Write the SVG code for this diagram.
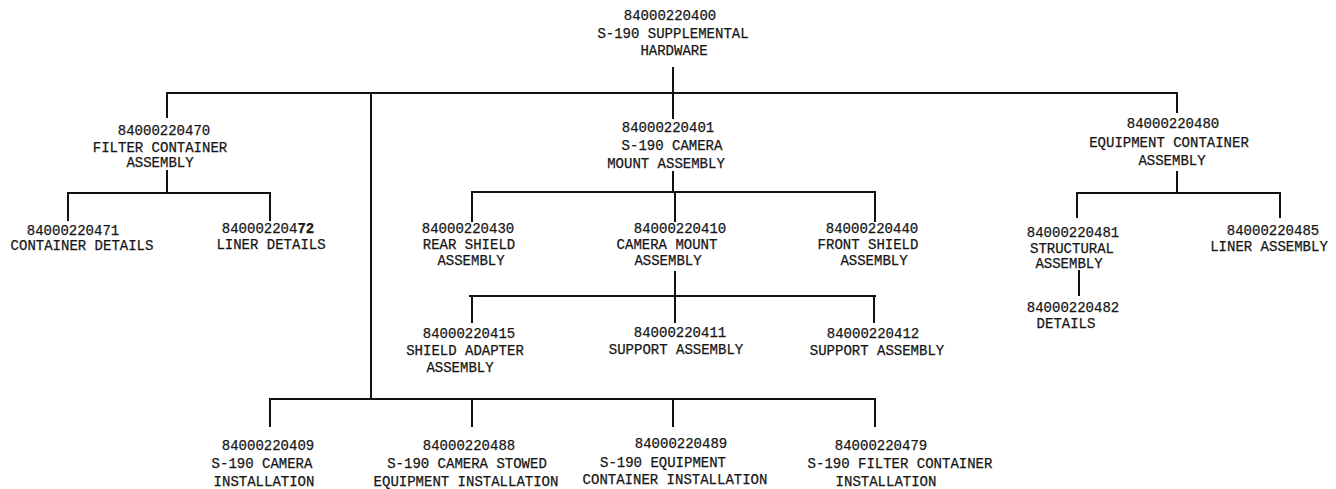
<svg xmlns="http://www.w3.org/2000/svg" width="1336" height="489" viewBox="0 0 1336 489">
<style>
text{font-family:"Liberation Mono","Courier New",monospace;font-size:14px;fill:#161616;stroke:#161616;stroke-width:0.25;text-anchor:middle}
.c line{stroke:#111;stroke-width:2;stroke-linecap:square}
.b{font-weight:bold}
</style>
<rect width="1336" height="489" fill="#fff"/>
<g class="c" id="connectors">
<line x1="673" y1="68" x2="673" y2="118"/>
<line x1="167" y1="93" x2="1177" y2="93"/>
<line x1="167" y1="93" x2="167" y2="117"/>
<line x1="1177" y1="93" x2="1177" y2="112"/>
<line x1="371" y1="93" x2="371" y2="399"/>
<line x1="167" y1="171" x2="167" y2="193"/>
<line x1="68" y1="193" x2="270" y2="193"/>
<line x1="68" y1="193" x2="68" y2="220"/>
<line x1="270" y1="193" x2="270" y2="220"/>
<line x1="673" y1="172" x2="673" y2="192"/>
<line x1="472" y1="192" x2="875" y2="192"/>
<line x1="472" y1="192" x2="472" y2="221"/>
<line x1="675" y1="192" x2="675" y2="221"/>
<line x1="875" y1="192" x2="875" y2="221"/>
<line x1="675" y1="272" x2="675" y2="296"/>
<line x1="470" y1="296" x2="875" y2="296"/>
<line x1="472" y1="296" x2="472" y2="322"/>
<line x1="675" y1="296" x2="675" y2="322"/>
<line x1="874" y1="296" x2="874" y2="322"/>
<line x1="1177" y1="172" x2="1177" y2="193"/>
<line x1="1077" y1="193" x2="1280" y2="193"/>
<line x1="1077" y1="193" x2="1077" y2="217"/>
<line x1="1280" y1="193" x2="1280" y2="217"/>
<line x1="1079" y1="271" x2="1079" y2="295"/>
<line x1="270" y1="399" x2="875" y2="399"/>
<line x1="270" y1="399" x2="270" y2="426"/>
<line x1="472" y1="399" x2="472" y2="426"/>
<line x1="673" y1="399" x2="673" y2="426"/>
<line x1="875" y1="399" x2="875" y2="426"/>
</g>
<g id="n400"><text x="670" y="20">84000220400</text><text x="673" y="38">S-190 SUPPLEMENTAL</text><text x="674" y="55">HARDWARE</text></g>
<g id="n470"><text x="164" y="135">84000220470</text><text x="160" y="152">FILTER CONTAINER</text><text x="160" y="167">ASSEMBLY</text></g>
<g id="n401"><text x="668" y="132">84000220401</text><text x="672" y="150">S-190 CAMERA</text><text x="666" y="168">MOUNT ASSEMBLY</text></g>
<g id="n480"><text x="1173" y="128">84000220480</text><text x="1169" y="147">EQUIPMENT CONTAINER</text><text x="1172" y="165">ASSEMBLY</text></g>
<g id="n471"><text x="73" y="235">84000220471</text><text x="82" y="250">CONTAINER DETAILS</text></g>
<g id="n472"><text x="268" y="233">840002204<tspan class="b">72</tspan></text><text x="271" y="249">LINER DETAILS</text></g>
<g id="n430"><text x="468" y="233">84000220430</text><text x="469" y="249">REAR SHIELD</text><text x="471" y="265">ASSEMBLY</text></g>
<g id="n410"><text x="680" y="233">84000220410</text><text x="667" y="249">CAMERA MOUNT</text><text x="668" y="265">ASSEMBLY</text></g>
<g id="n440"><text x="872" y="233">84000220440</text><text x="868" y="249">FRONT SHIELD</text><text x="874" y="265">ASSEMBLY</text></g>
<g id="n481"><text x="1073" y="237">84000220481</text><text x="1072" y="253">STRUCTURAL</text><text x="1069" y="268">ASSEMBLY</text></g>
<g id="n485"><text x="1273" y="235">84000220485</text><text x="1269" y="251">LINER ASSEMBLY</text></g>
<g id="n482"><text x="1073" y="312">84000220482</text><text x="1066" y="328">DETAILS</text></g>
<g id="n415"><text x="469" y="338">84000220415</text><text x="465" y="355">SHIELD ADAPTER</text><text x="460" y="372">ASSEMBLY</text></g>
<g id="n411"><text x="680" y="337">84000220411</text><text x="676" y="354">SUPPORT ASSEMBLY</text></g>
<g id="n412"><text x="873" y="338">84000220412</text><text x="877" y="355">SUPPORT ASSEMBLY</text></g>
<g id="n409"><text x="268" y="450">84000220409</text><text x="262" y="468">S-190 CAMERA</text><text x="264" y="486">INSTALLATION</text></g>
<g id="n488"><text x="469" y="450">84000220488</text><text x="467" y="468">S-190 CAMERA STOWED</text><text x="466" y="486">EQUIPMENT INSTALLATION</text></g>
<g id="n489"><text x="681" y="448">84000220489</text><text x="663" y="467">S-190 EQUIPMENT</text><text x="675" y="484">CONTAINER INSTALLATION</text></g>
<g id="n479"><text x="881" y="450">84000220479</text><text x="900" y="468">S-190 FILTER CONTAINER</text><text x="886" y="486">INSTALLATION</text></g>
</svg>
